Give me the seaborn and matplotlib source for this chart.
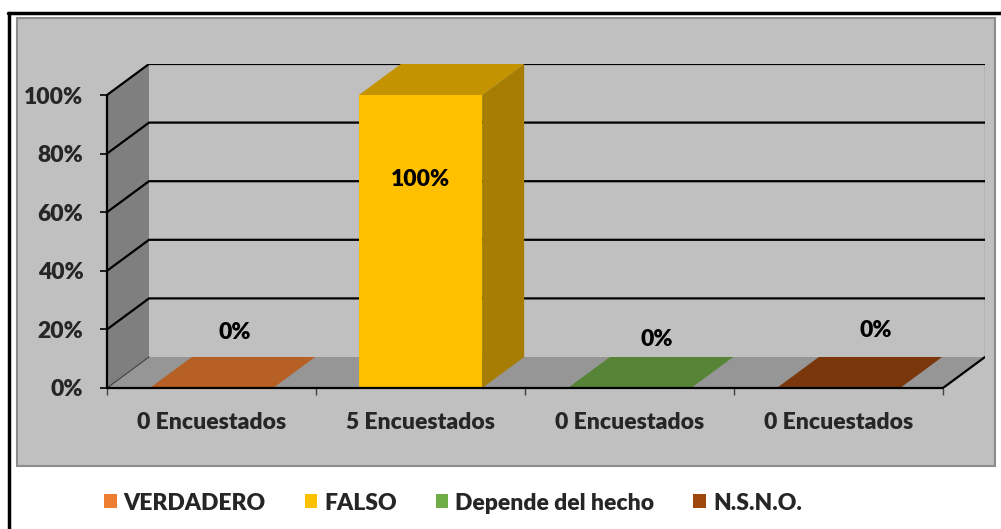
import matplotlib
matplotlib.use("Agg")
import matplotlib.pyplot as plt
from matplotlib.patches import Polygon, Rectangle, Patch
from matplotlib.lines import Line2D
from matplotlib.colors import to_rgb
import seaborn as sns
import pandas as pd

# ── Datos ────────────────────────────────────────────────────────────────
series = ["VERDADERO", "FALSO", "Depende del hecho", "N.S.N.O."]
encuestados = ["0 Encuestados", "5 Encuestados", "0 Encuestados", "0 Encuestados"]
porcentaje = [0, 100, 0, 0]
yticks = [0, 20, 40, 60, 80, 100]

# ── Estilo ───────────────────────────────────────────────────────────────
colores = ["#ED7D31", "#FFC000", "#70AD47", "#9E480E"]
# posicion de las etiquetas (desplazamiento x, altura y), como en Excel
etiquetas_pos = [(0.11, 18.8), (0.0, 71.0), (0.13, 16.4), (0.18, 19.5)]

W, H = 1001, 529
FRONT_L, FRONT_R = 107, 943      # eje frontal en px
FRONT_B, FRONT_T = 388, 95       # 0% y 100% frontal en px
DX_PX, DY_PX = 42, 31            # profundidad 3D
ANCHO = 0.59

sns.set_style("white")
plt.rcParams["font.family"] = ["Lato", "DejaVu Sans"]
FS = 16.5
PESO = "heavy"


def sombra(c, f):
    r, g, b = to_rgb(c)
    return (r * f, g * f, b * f)


def fx(x):
    return x / W


def fy(y):
    return 1 - y / H


fig = plt.figure(figsize=(W / 100, H / 100), dpi=100)
fig.patch.set_facecolor("white")

# marco negro exterior y area de grafico gris
fig.add_artist(Line2D([fx(9), fx(9)], [fy(13), fy(H + 5)], color="black", lw=2.5))
fig.add_artist(Line2D([fx(8), fx(W + 5)], [fy(13), fy(13)], color="black", lw=2.5))
fig.add_artist(Rectangle((fx(17), fy(466)), fx(995) - fx(17), fy(18) - fy(466),
                         facecolor="#C0C0C0", edgecolor="#8C8C8C", lw=1.5,
                         transform=fig.transFigure, zorder=0))

# ejes: escala del plano frontal
ux = (FRONT_R - FRONT_L) / len(series)          # px por categoria
uy = (FRONT_B - FRONT_T) / 100.0                # px por punto porcentual
dx = DX_PX / ux
dy = DY_PX / uy
xmin, xmax = -0.5, len(series) - 0.5
ax_right = FRONT_R + DX_PX
ax_top = FRONT_T - DY_PX
ax = fig.add_axes([fx(FRONT_L), fy(FRONT_B), fx(ax_right) - fx(FRONT_L), fy(ax_top) - fy(FRONT_B)])
ax.patch.set_alpha(0)

# pared izquierda, suelo y pared del fondo
ax.add_patch(Polygon([(xmin, 0), (xmin + dx, dy), (xmin + dx, 100 + dy), (xmin, 100)],
                     facecolor="#7F7F7F", edgecolor="none", zorder=1))
ax.add_patch(Polygon([(xmin, 0), (xmax, 0), (xmax + dx, dy), (xmin + dx, dy)],
                     facecolor="#969696", edgecolor="none", zorder=1))
ax.plot([xmax + dx, xmax + dx], [dy, 100 + dy], color="#808080", lw=1, zorder=1.5)

# lineas de division
for v in yticks[1:]:
    ax.plot([xmin, xmin + dx, xmax + dx], [v, v + dy, v + dy], color="black", lw=1.6,
            zorder=2, solid_capstyle="butt")
ax.plot([xmin, xmin + dx], [0, dy], color="#404040", lw=0.8, zorder=2)
ax.plot([xmax, xmax + dx], [0, dy], color="black", lw=1.6, zorder=2)

# barras: cara frontal con seaborn
df = pd.DataFrame({"serie": series, "pct": porcentaje})
sns.barplot(data=df, x="serie", y="pct", hue="serie", palette=colores, width=ANCHO,
            saturation=1, linewidth=0, legend=False, ax=ax, zorder=3)

# caras superior y lateral
for i, (v, c) in enumerate(zip(porcentaje, colores)):
    x0, x1 = i - ANCHO / 2, i + ANCHO / 2
    ax.add_patch(Polygon([(x0, v), (x1, v), (x1 + dx, v + dy), (x0 + dx, v + dy)],
                         facecolor=sombra(c, 0.77), edgecolor="none", zorder=3))
    if v > 0:
        ax.add_patch(Polygon([(x1, 0), (x1 + dx, dy), (x1 + dx, v + dy), (x1, v)],
                             facecolor=sombra(c, 0.65), edgecolor="none", zorder=3))

# etiquetas de datos
for i, (v, (ox, oy)) in enumerate(zip(porcentaje, etiquetas_pos)):
    ax.text(i + ox, oy, f"{v}%", ha="center", va="center", fontsize=FS,
            fontweight=PESO, color="black", zorder=5)

# ejes frontales
ax.plot([xmin, xmin], [0, 100], color="black", lw=1.6, zorder=4, clip_on=False)
ax.plot([xmin, xmax], [0, 0], color="black", lw=1.6, zorder=4, clip_on=False)

ax.set_xlim(xmin, xmax + dx)
ax.set_ylim(0, 100 + dy)
for s in ax.spines.values():
    s.set_visible(False)

ax.set_yticks(yticks)
ax.set_yticklabels([f"{t}%" for t in yticks], fontsize=FS, fontweight=PESO)
ax.tick_params(axis="y", direction="out", length=5, width=1.2, color="black", pad=12, left=True)
ax.set_xticks(range(len(series)))
ax.set_xticklabels(encuestados, fontsize=FS, fontweight=PESO)
ax.tick_params(axis="x", length=0, pad=17)
ax.set_xticks([k - 0.5 for k in range(len(series) + 1)], minor=True)
ax.tick_params(axis="x", which="minor", direction="out", length=5, width=1, color="#404040", bottom=True)
ax.set_xlabel("")
ax.set_ylabel("")

# leyenda
handles = [Patch(facecolor=c, edgecolor="none") for c in colores]
fig.legend(handles, series, loc="center", bbox_to_anchor=(fx(453), fy(503)), ncol=4,
           frameon=False, handlelength=0.55, handleheight=0.55, handletextpad=0.3,
           columnspacing=1.7, prop={"weight": PESO, "size": FS})

fig.savefig("out.png", dpi=100)
